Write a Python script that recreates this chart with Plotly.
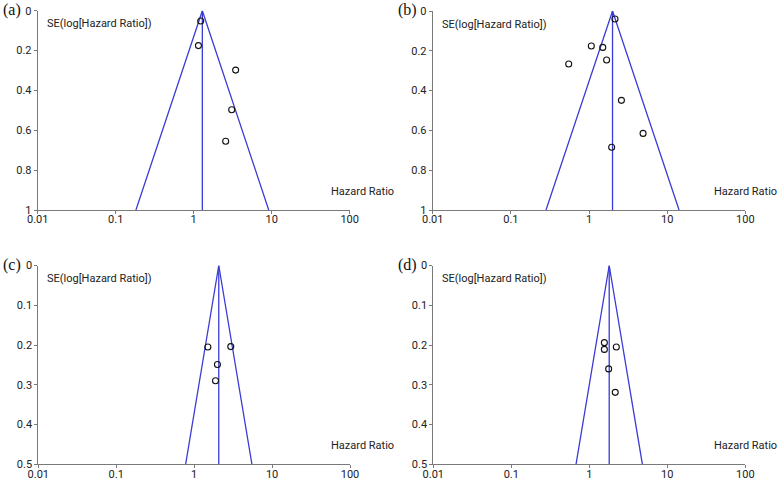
import math
import plotly.graph_objects as go

# ---- data ----
panel_labels = ["(a)", "(b)", "(c)", "(d)"]

hr_a = [1.23, 1.15, 3.45, 3.07, 2.57]
se_a = [0.052, 0.175, 0.298, 0.497, 0.655]
pooled_a = 1.29

hr_b = [2.15, 1.07, 1.50, 1.68, 0.55, 2.60, 4.92, 1.95]
se_b = [0.040, 0.176, 0.183, 0.246, 0.266, 0.449, 0.615, 0.685]
pooled_b = 2.0

hr_c = [1.50, 2.95, 1.99, 1.88]
se_c = [0.205, 0.204, 0.249, 0.290]
pooled_c = 2.07

hr_d = [1.56, 1.56, 2.22, 1.77, 2.15]
se_d = [0.194, 0.211, 0.205, 0.260, 0.319]
pooled_d = 1.80

se_max = [1.0, 1.0, 0.5, 0.5]
x_tickvals = [0.01, 0.1, 1, 10, 100]
x_ticktext = ["0.01", "0.1", "1", "10", "100"]
y_ticks_big = [0, 0.2, 0.4, 0.6, 0.8, 1]
y_ticktext_big = ["0", "0.2", "0.4", "0.6", "0.8", "1"]
y_ticks_small = [0, 0.1, 0.2, 0.3, 0.4, 0.5]
y_ticktext_small = ["0", "0.1", "0.2", "0.3", "0.4", "0.5"]
y_title = "SE(log[Hazard Ratio])"
x_title = "Hazard Ratio"

# ---- layout geometry (pixels) ----
W, H = 777, 481
boxes = [  # x0, x1, ytop, ybottom in pixels
    (37.7, 349.7, 10.7, 210.0),
    (432.7, 745.3, 11.0, 210.0),
    (38.3, 350.0, 265.5, 464.3),
    (433.3, 745.3, 265.5, 464.3),
]
x_title_offset = [-21, -33, -21, -33]

BLUE = "#3a3ad6"
AXIS = "#7a7a7a"
FONT = "Roboto, 'Open Sans', sans-serif"

fig = go.Figure()
panels = [(hr_a, se_a, pooled_a), (hr_b, se_b, pooled_b),
          (hr_c, se_c, pooled_c), (hr_d, se_d, pooled_d)]

layout = dict(width=W, height=H, margin=dict(l=0, r=0, t=0, b=0, autoexpand=False),
              paper_bgcolor="white", plot_bgcolor="white", showlegend=False,
              font=dict(family=FONT, size=11, color="#222"))
annotations = []

for i, ((hr, se, pooled), box) in enumerate(zip(panels, boxes)):
    n = i + 1
    xa = "x" if n == 1 else f"x{n}"
    ya = "y" if n == 1 else f"y{n}"
    smax = se_max[i]
    lo = math.exp(math.log(pooled) - 1.96 * smax)
    hi = math.exp(math.log(pooled) + 1.96 * smax)
    # funnel
    fig.add_trace(go.Scatter(x=[lo, pooled, hi], y=[smax, 0, smax], mode="lines",
                             line=dict(color=BLUE, width=1.3), xaxis=xa, yaxis=ya,
                             hoverinfo="skip", cliponaxis=False))
    # pooled vertical line
    fig.add_trace(go.Scatter(x=[pooled, pooled], y=[0, smax], mode="lines",
                             line=dict(color=BLUE, width=1.3), xaxis=xa, yaxis=ya,
                             hoverinfo="skip", cliponaxis=False))
    # studies
    fig.add_trace(go.Scatter(x=hr, y=se, mode="markers",
                             marker=dict(symbol="circle-open", size=6,
                                         color="#111", line=dict(width=1.1)),
                             xaxis=xa, yaxis=ya, cliponaxis=False))
    x0, x1, yt, yb = box
    xkey = "xaxis" if n == 1 else f"xaxis{n}"
    ykey = "yaxis" if n == 1 else f"yaxis{n}"
    big = smax == 1.0
    layout[xkey] = dict(type="log", range=[-2, 2], domain=[x0 / W, x1 / W],
                        anchor=ya, tickvals=x_tickvals, ticktext=x_ticktext,
                        automargin=False, ticklabelstandoff=-4,
                        showgrid=False, zeroline=False, showline=True,
                        linecolor=AXIS, linewidth=1, ticks="outside", ticklen=3,
                        tickcolor=AXIS, tickfont=dict(size=11, color="#222"))
    layout[ykey] = dict(range=[smax, 0], domain=[1 - yb / H, 1 - yt / H],
                        anchor=xa, automargin=False,
                        tickvals=y_ticks_big if big else y_ticks_small,
                        ticktext=y_ticktext_big if big else y_ticktext_small,
                        showgrid=False, zeroline=False, showline=True,
                        linecolor=AXIS, linewidth=1, ticks="outside", ticklen=3,
                        tickcolor=AXIS, tickfont=dict(size=11, color="#222"))
    # axis titles as annotations
    annotations.append(dict(x=(x0 + 7.0) / W, y=1 - (yt + 13) / H, xref="paper",
                            yref="paper", xanchor="left", yanchor="middle",
                            text=y_title, showarrow=False,
                            font=dict(size=11, family=FONT, color="#222")))
    annotations.append(dict(x=(x1 + x_title_offset[i]) / W, y=1 - (yb - 19) / H,
                            xref="paper", yref="paper", xanchor="left",
                            yanchor="middle", text=x_title, showarrow=False,
                            font=dict(size=11, family=FONT, color="#222")))
    annotations.append(dict(x=(x0 - 37) / W, y=1 - (yt - 1) / H, xref="paper",
                            yref="paper", xanchor="left", yanchor="middle",
                            text=panel_labels[i], showarrow=False,
                            font=dict(size=16, family="'Liberation Serif', 'DejaVu Serif', serif",
                                      color="#111")))

layout["annotations"] = annotations
fig.update_layout(**layout)
fig.write_html("out.html", config={"displayModeBar": False},
               post_script="document.body.style.margin='0';document.body.style.overflow='hidden';")
